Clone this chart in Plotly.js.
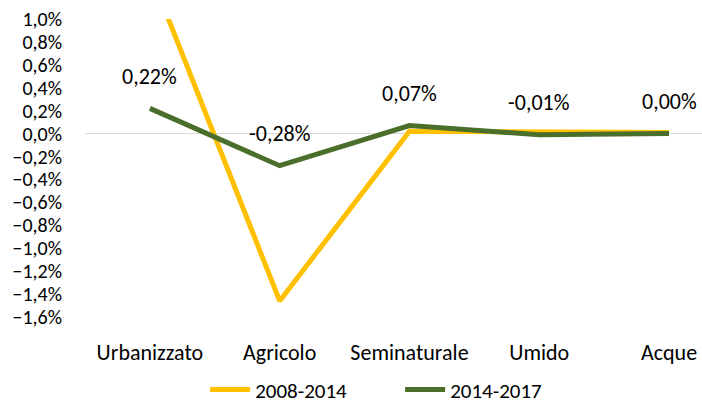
<!DOCTYPE html>
<html><head><meta charset="utf-8">
<script src="https://cdn.plot.ly/plotly-3.0.1.min.js"></script>
<style>body{margin:0;background:#fff}#chart{width:702px;height:406px}</style>
</head><body><div id="chart"></div>
<script>
const categories = ["Urbanizzato", "Agricolo", "Seminaturale", "Umido", "Acque"];
const series1Name = "2008-2014";
const series1 = [0.0141, -0.0146, 0.0002, 0.0001, 0.0001];
const series2Name = "2014-2017";
const series2 = [0.0022, -0.0028, 0.0007, -0.0001, 0.0000];
const yTicks = [-0.016,-0.014,-0.012,-0.010,-0.008,-0.006,-0.004,-0.002,0,0.002,0.004,0.006,0.008,0.010];

const fontFam = "Carlito, Calibri, 'Liberation Sans', sans-serif";
const traces = [
  {x: categories, y: series1, name: series1Name, type: 'scatter', mode: 'lines',
   line: {color: '#FFC000', width: 5}},
  {x: categories, y: series2, name: series2Name, type: 'scatter', mode: 'lines',
   line: {color: '#4A6F2B', width: 5}}
];
const fmt = v => (v*100).toFixed(2).replace('.', ',').replace(/^-0,00$/, '0,00') + '%';
const annotations = categories.map((c, i) => ({
  x: c, y: series2[i], text: fmt(series2[i]), showarrow: false,
  yshift: 32, font: {size: 22, color: '#000', family: fontFam}
}));
const layout = {
  width: 702, height: 406,
  margin: {l: 85, r: 0, t: 19, b: 89},
  paper_bgcolor: '#fff', plot_bgcolor: '#fff',
  separators: ',.',
  font: {family: fontFam, size: 22, color: '#000'},
  showlegend: true,
  legend: {orientation: 'h', xref: 'container', yref: 'container',
           x: 0.57, xanchor: 'center', y: 0.04, yanchor: 'middle',
           entrywidth: 140, entrywidthmode: 'pixels',
           font: {size: 21, color: '#000'}, itemwidth: 40, tracegroupgap: 0},
  xaxis: {type: 'category', range: [-0.5, 4.254], showgrid: false, zeroline: false,
          showline: false, ticks: '', ticklabelstandoff: 20, fixedrange: true, automargin: false},
  yaxis: {range: [-0.016, 0.010], tickvals: yTicks, tickformat: '.1%', showgrid: false,
          zeroline: true, zerolinecolor: '#D9D9D9', zerolinewidth: 1,
          tickfont: {size: 20},
          showline: false, ticks: '', ticklabelstandoff: 22, fixedrange: true, automargin: false},
  annotations: annotations
};
Plotly.newPlot('chart', traces, layout, {displayModeBar: false, staticPlot: true});
</script></body></html>
